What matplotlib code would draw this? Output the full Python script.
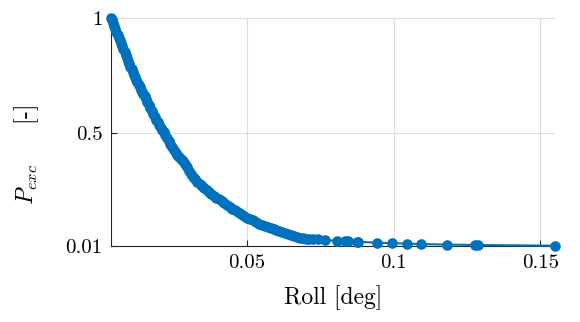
import numpy as np
import matplotlib
matplotlib.use("Agg")
from matplotlib import pyplot as plt

plt.rcParams['mathtext.fontset'] = 'cm'
plt.rcParams['font.family'] = 'serif'
plt.rcParams['font.serif'] = ['cmr10', 'DejaVu Serif']
plt.rcParams['axes.formatter.use_mathtext'] = True

# roll angle [deg]
roll = [0.0035, 0.0038, 0.0042, 0.0046, 0.0050, 0.0054, 0.0058, 0.0062, 0.0066, 0.0070,
        0.0074, 0.0078, 0.0082, 0.0086, 0.0090, 0.0094, 0.0098, 0.0102, 0.0106, 0.0110,
        0.0114, 0.0118, 0.0122, 0.0126, 0.0130, 0.0134, 0.0138, 0.0142, 0.0146, 0.0150,
        0.0155, 0.0160, 0.0165, 0.0170, 0.0175, 0.0180, 0.0185, 0.0190, 0.0195, 0.0200,
        0.0205, 0.0210, 0.0215, 0.0220, 0.0226, 0.0232, 0.0238, 0.0244, 0.0250, 0.0256,
        0.0262, 0.0268, 0.0274, 0.0280, 0.0287, 0.0294, 0.0301, 0.0308, 0.0315, 0.0322,
        0.0330, 0.0338, 0.0346, 0.0354, 0.0362, 0.0370, 0.0378, 0.0386, 0.0395, 0.0404,
        0.0413, 0.0422, 0.0431, 0.0440, 0.0450, 0.0460, 0.0470, 0.0480, 0.0490, 0.0500,
        0.0510, 0.0520, 0.0530, 0.0540, 0.0550, 0.0560, 0.0570, 0.0580, 0.0590, 0.0600,
        0.0610, 0.0620, 0.0630, 0.0640, 0.0650, 0.0660, 0.0670, 0.0680, 0.0690, 0.0700,
        0.0712, 0.0726, 0.0741, 0.0765, 0.0805, 0.0833, 0.0843, 0.0874, 0.0877, 0.0942,
        0.0993, 0.1044, 0.1092, 0.1180, 0.1276, 0.1286, 0.1550]

# exceedance probability [-]
p_exc = [1.000, 0.990, 0.978, 0.962, 0.951, 0.940, 0.925, 0.913, 0.902, 0.889,
         0.876, 0.862, 0.850, 0.836, 0.826, 0.813, 0.801, 0.788, 0.776, 0.764,
         0.753, 0.742, 0.731, 0.720, 0.708, 0.697, 0.687, 0.677, 0.668, 0.658,
         0.645, 0.632, 0.620, 0.607, 0.594, 0.582, 0.570, 0.557, 0.545, 0.533,
         0.522, 0.512, 0.503, 0.492, 0.479, 0.465, 0.450, 0.437, 0.424, 0.413,
         0.403, 0.395, 0.386, 0.377, 0.364, 0.350, 0.336, 0.322, 0.310, 0.299,
         0.288, 0.278, 0.268, 0.259, 0.251, 0.243, 0.235, 0.227, 0.219, 0.211,
         0.203, 0.195, 0.187, 0.179, 0.171, 0.163, 0.155, 0.147, 0.139, 0.132,
         0.126, 0.120, 0.113, 0.106, 0.100, 0.095, 0.090, 0.086, 0.082, 0.078,
         0.074, 0.070, 0.065, 0.060, 0.056, 0.052, 0.048, 0.045, 0.043, 0.041,
         0.039, 0.038, 0.037, 0.035, 0.031, 0.030, 0.029, 0.027, 0.027, 0.023,
         0.021, 0.019, 0.017, 0.015, 0.013, 0.013, 0.010]

xticks = [0.05, 0.1, 0.15]
xticklabels = ['0.05', '0.1', '0.15']
yticks = [0.01, 0.5, 1]
yticklabels = ['0.01', '0.5', '1']

fig = plt.figure(figsize=(5.8, 3.22), dpi=100)
ax = fig.add_axes([0.191, 0.237, 0.766, 0.708])

ax.plot(roll, p_exc, '-o', color='#0072BD', lw=1.5, ms=6.6, mec='#0072BD', clip_on=False, zorder=3)

ax.set_xlim(roll[0], roll[-1])
ax.set_ylim(0.01, 1)
ax.set_xticks(xticks)
ax.set_xticklabels(xticklabels, fontsize=15)
ax.set_yticks(yticks)
ax.set_yticklabels(yticklabels, fontsize=15)
ax.tick_params(direction='in', length=4, width=0.8, color='#262626', pad=6)

for s in ['top', 'right']:
    ax.spines[s].set_visible(False)
for s in ['left', 'bottom']:
    ax.spines[s].set_color('#262626')
    ax.spines[s].set_linewidth(0.8)

ax.grid(True, color='#dcdcdc', lw=0.8)
ax.set_axisbelow(True)

ax.set_xlabel('Roll [deg]', fontsize=17)
ax.xaxis.set_label_coords(0.5, -0.175)
ax.set_ylabel(r'$P_{exc}$     [-]', fontsize=17)
ax.yaxis.set_label_coords(-0.158, 0.40)

plt.savefig("out.png", dpi=100)
